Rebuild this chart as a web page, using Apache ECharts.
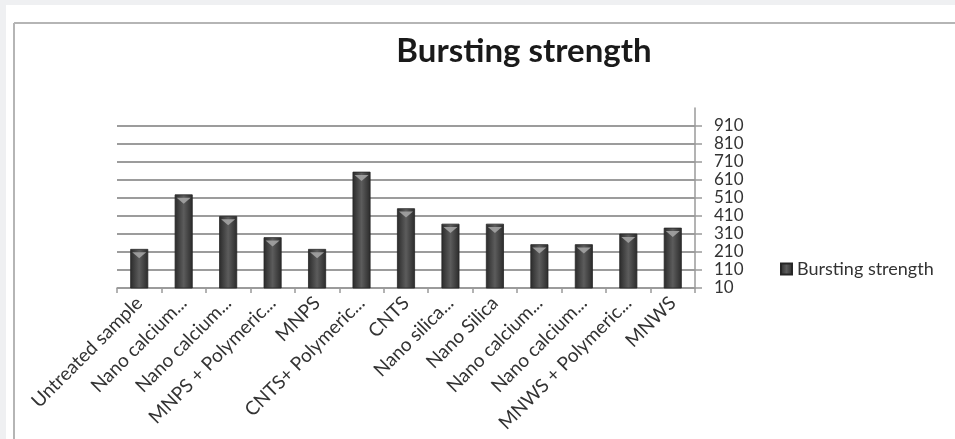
<!DOCTYPE html>
<html>
<head>
<meta charset="utf-8">
<script src="https://cdn.jsdelivr.net/npm/echarts@6/dist/echarts.min.js"></script>
<style>
html,body{margin:0;padding:0;background:#eff0f2;}
#c{position:absolute;left:0;top:0;width:955px;height:439px;}
</style>
</head>
<body>
<div id="c"></div>
<script>
const categories = ["Untreated sample","Nano calcium...","Nano calcium...","MNPS + Polymeric...","MNPS","CNTS+ Polymeric...","CNTS","Nano silica...","Nano Silica","Nano calcium...","Nano calcium...","MNWS + Polymeric...","MNWS"];
const burstingStrength = [227, 530, 410, 292, 227, 656, 453, 367, 367, 253, 253, 312, 345];
const seriesName = "Bursting strength";
const titleText = "Bursting strength";
const yMin = 10, yMax = 1010, yStep = 100;

const barColor = {
  type: 'linear', x: 0, y: 0, x2: 1, y2: 0,
  colorStops: [
    {offset: 0, color: '#2a2a2a'},
    {offset: 0.5, color: '#5c5c5c'},
    {offset: 1, color: '#2a2a2a'}
  ]
};
const gridColors = [];
for (let v = yMin; v <= yMax; v += yStep) gridColors.push(v >= yMax ? 'rgba(0,0,0,0)' : '#9c9c9c');

const chart = echarts.init(document.getElementById('c'));
chart.setOption({
  animation: false,
  backgroundColor: 'transparent',
  graphic: [
    {type: 'rect', z: -10, shape: {x: 6, y: 5, width: 949, height: 434}, style: {fill: '#ffffff'}},
    {type: 'line', z: -9, shape: {x1: 14, y1: 23, x2: 955, y2: 23}, style: {stroke: '#b5b5b5', lineWidth: 2}},
    {type: 'line', z: -9, shape: {x1: 14, y1: 23, x2: 14, y2: 439}, style: {stroke: '#b5b5b5', lineWidth: 2}}
  ],
  title: {
    text: titleText,
    left: 519,
    top: 30,
    textAlign: 'center',
    textStyle: {fontFamily: 'Lato', fontSize: 33, fontWeight: 'bold', color: '#1a1a1a'}
  },
  legend: {
    data: [{name: seriesName, icon: 'rect'}],
    left: 775,
    top: 255,
    itemWidth: 11,
    itemHeight: 11,
    itemGap: 6,
    textStyle: {fontFamily: 'Lato', fontSize: 18, color: '#333'}
  },
  grid: {left: 117, right: 260, top: 108, bottom: 151, containLabel: false},
  xAxis: {
    type: 'category',
    data: categories,
    axisLine: {show: true, lineStyle: {color: '#9a9a9a', width: 1.5}},
    axisTick: {show: true, length: 5, alignWithLabel: false, lineStyle: {color: '#9a9a9a', width: 1.5}},
    axisLabel: {interval: 0, rotate: 45, margin: 12, fontFamily: 'Lato', fontSize: 19, color: '#333'}
  },
  yAxis: {
    type: 'value',
    position: 'right',
    min: yMin,
    max: yMax,
    interval: yStep,
    axisLine: {show: true, lineStyle: {color: '#9a9a9a', width: 1.5}},
    axisTick: {show: true, length: 7, lineStyle: {color: '#9a9a9a', width: 1.5}},
    axisLabel: {showMaxLabel: false, margin: 19, fontFamily: 'Lato', fontSize: 17, color: '#333'},
    splitLine: {show: true, lineStyle: {color: gridColors, width: 1.8}}
  },
  series: [{
    name: seriesName,
    type: 'bar',
    data: burstingStrength,
    barWidth: 18,
    itemStyle: {color: barColor, borderColor: '#262626', borderWidth: 0.8}
  }, {
    name: 'cap',
    type: 'pictorialBar',
    data: burstingStrength,
    symbol: 'triangle',
    symbolRotate: 180,
    symbolSize: [14, 6],
    symbolPosition: 'end',
    symbolOffset: [0, '55%'],
    barGap: '-100%',
    z: 5,
    silent: true,
    itemStyle: {color: '#a8a8a8', opacity: 0.85}
  }]
});
</script>
</body>
</html>
